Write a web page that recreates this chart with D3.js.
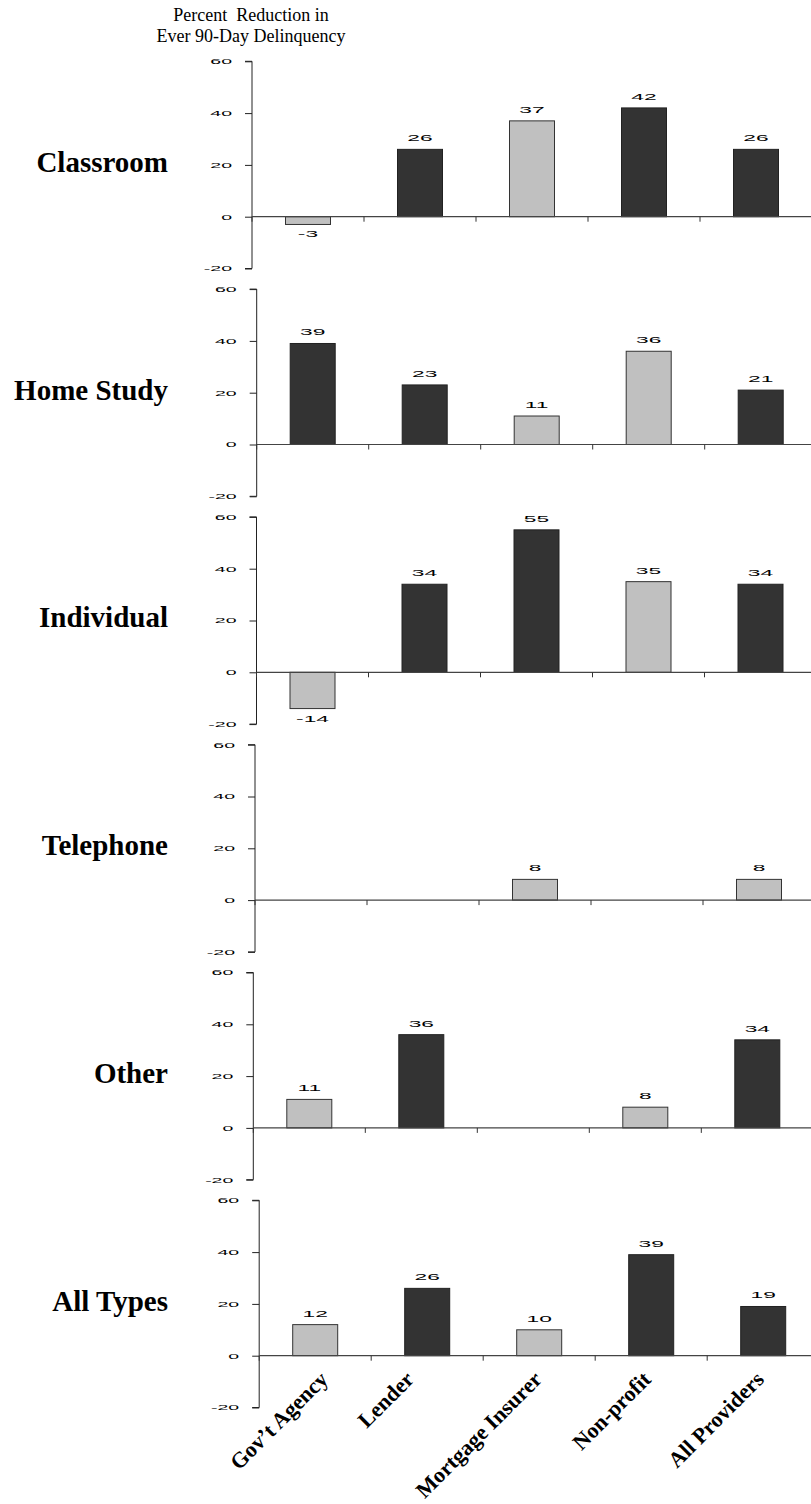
<!DOCTYPE html>
<html>
<head>
<meta charset="utf-8">
<script src="https://cdn.jsdelivr.net/npm/d3@7"></script>
<style>
  html, body { margin: 0; padding: 0; background: #fff; }
  svg { display: block; }
</style>
</head>
<body>
<div id="chart"></div>
<script>
// ---------- DATA ----------
const titleLines = ["Percent  Reduction in", "Ever 90-Day Delinquency"];
const categories = ["Gov\u2019t Agency", "Lender", "Mortgage Insurer", "Non-profit", "All Providers"];
const panelNames = ["Classroom", "Home Study", "Individual", "Telephone", "Other", "All Types"];
const yTicks = [60, 40, 20, 0, -20];

// values per panel (null = no bar)
const classroom  = [-3, 26, 37, 42, 26];
const homeStudy  = [39, 23, 11, 36, 21];
const individual = [-14, 34, 55, 35, 34];
const telephone  = [null, null, 8, null, 8];
const other      = [11, 36, null, 8, 34];
const allTypes   = [12, 26, 10, 39, 19];

// 1 = dark bar (significant), 0 = light gray bar
const classroomSig  = [0, 1, 0, 1, 1];
const homeStudySig  = [1, 1, 0, 0, 1];
const individualSig = [0, 1, 1, 0, 1];
const telephoneSig  = [0, 0, 0, 0, 0];
const otherSig      = [0, 1, 0, 0, 1];
const allTypesSig   = [0, 1, 0, 1, 1];

const panelValues = [classroom, homeStudy, individual, telephone, other, allTypes];
const panelSig = [classroomSig, homeStudySig, individualSig, telephoneSig, otherSig, allTypesSig];

// ---------- LAYOUT ----------
const W = 811, H = 1504;
const firstZero = 216.7, panelStep = 227.8;
const unitPx = 2.59;
const axisXs = [252, 256.7, 256.5, 255, 253.3, 259.2];
const bandW = 112;
const barW = 45;
const catLabelDx = [14, -12, 4, 1, 2];
const darkFill = "#333333", lightFill = "#c0c0c0";
const fmt = v => String(v);

const svg = d3.select("#chart").append("svg")
  .attr("width", W).attr("height", H);

// Title
svg.append("g").selectAll("text").data(titleLines).join("text")
  .attr("x", 251).attr("y", (d, i) => 21 + i * 21)
  .attr("text-anchor", "middle")
  .attr("font-family", "'Liberation Serif', 'Times New Roman', serif")
  .attr("font-size", 18)
  .style("white-space", "pre")
  .attr("fill", "#000")
  .text(d => d);

panelNames.forEach((name, p) => {
  const zero = firstZero + p * panelStep;
  const ax = axisXs[p];
  const y = d3.scaleLinear().domain([-20, 60]).range([zero + 20 * unitPx, zero - 60 * unitPx]);
  const x = d3.scaleBand().domain(categories).range([ax, ax + bandW * categories.length]).padding(0);
  const g = svg.append("g");

  // row label
  g.append("text")
    .attr("x", 168).attr("y", zero - 45)
    .attr("text-anchor", "end")
    .attr("font-family", "'Liberation Serif', 'Times New Roman', serif")
    .attr("font-weight", "bold")
    .attr("font-size", 29)
    .attr("fill", "#000")
    .text(name);

  // bars
  const data = categories.map((c, i) => ({ c, v: panelValues[p][i], sig: panelSig[p][i] }))
    .filter(d => d.v !== null);

  g.selectAll("rect.bar").data(data).join("rect")
    .attr("class", "bar")
    .attr("x", d => x(d.c) + (x.bandwidth() - barW) / 2)
    .attr("y", d => y(Math.max(0, d.v)))
    .attr("width", barW)
    .attr("height", d => Math.abs(y(d.v) - y(0)))
    .attr("fill", d => d.sig ? darkFill : lightFill)
    .attr("stroke", d => d.sig ? "#222" : "#333")
    .attr("stroke-width", 1);

  // value labels (wide, flat sans text)
  g.selectAll("text.val").data(data).join("text")
    .attr("class", "val")
    .attr("text-anchor", "middle")
    .attr("font-family", "'Liberation Sans', Arial, sans-serif")
    .attr("font-size", 9.5)
    .attr("fill", "#000")
    .attr("transform", d => {
      const cx = x(d.c) + x.bandwidth() / 2;
      const yy = d.v >= 0 ? y(d.v) - 8 : y(d.v) + 13;
      return `translate(${cx},${yy}) scale(2.4,1)`;
    })
    .text(d => fmt(d.v));

  // y axis
  const yAxis = d3.axisLeft(y).tickValues(yTicks).tickSize(7).tickPadding(13).tickFormat(fmt);
  const ya = g.append("g").attr("transform", `translate(${ax},0)`).call(yAxis);
  ya.select(".domain").attr("stroke", "#222").attr("d", `M-7,${y(60)}H0V${y(-20)}H-7`);
  ya.selectAll(".tick line").attr("stroke", "#222");
  ya.selectAll(".tick text")
    .attr("font-family", "'Liberation Sans', Arial, sans-serif")
    .attr("font-size", 7.5)
    .attr("fill", "#000")
    .attr("text-anchor", "end")
    .each(function () {
      const t = d3.select(this);
      const xx = +t.attr("x");
      t.attr("x", null)
        .attr("transform", `translate(${xx},0) scale(2.6,1)`);
    });

  // x axis at zero
  const xa = g.append("g").attr("transform", `translate(0,${y(0)})`);
  xa.append("line").attr("x1", ax).attr("x2", W).attr("y1", 0).attr("y2", 0)
    .attr("stroke", "#444").attr("stroke-width", 1.2);
  xa.selectAll("line.xt").data(categories).join("line")
    .attr("class", "xt")
    .attr("x1", d => x(d)).attr("x2", d => x(d))
    .attr("y1", 0).attr("y2", 5)
    .attr("stroke", "#333");

  // category labels only on the last panel
  if (p === panelNames.length - 1) {
    xa.selectAll("text.cat").data(categories).join("text")
      .attr("class", "cat")
      .attr("text-anchor", "end")
      .attr("font-family", "'Liberation Serif', 'Times New Roman', serif")
      .attr("font-weight", "bold")
      .attr("font-size", 22)
      .attr("fill", "#000")
      .attr("transform", (d, i) => `translate(${x(d) + x.bandwidth() / 2 + catLabelDx[i]},25) rotate(-45)`)
      .text(d => d);
  }
});
</script>
</body>
</html>
